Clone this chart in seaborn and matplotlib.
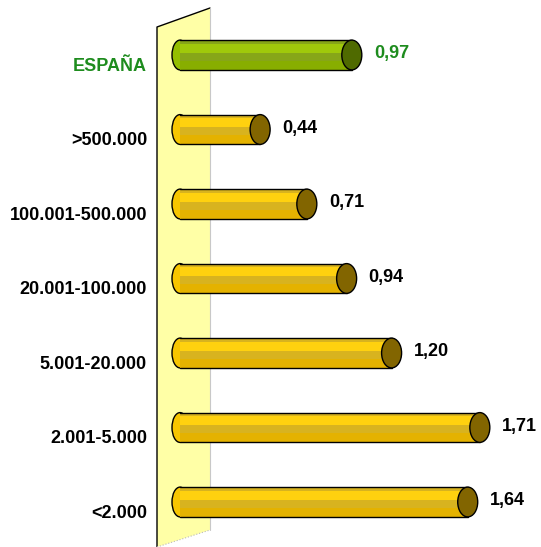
import numpy as np
import matplotlib
matplotlib.use('Agg')
import matplotlib.pyplot as plt
import seaborn as sns
from matplotlib.patches import Ellipse, Polygon, Rectangle

categories = ['ESPAÑA', '>500.000', '100.001-500.000', '20.001-100.000',
              '5.001-20.000', '2.001-5.000', '<2.000']
values = [0.97, 0.44, 0.71, 0.94, 1.20, 1.71, 1.64]
value_labels = ['0,97', '0,44', '0,71', '0,94', '1,20', '1,71', '1,64']

sns.set_theme(style='white')
plt.rcParams['font.family'] = ['Liberation Sans', 'DejaVu Sans']

W, H = 541, 547
fig = plt.figure(figsize=(W / 100, H / 100), dpi=100)
ax = fig.add_axes([0, 0, 1, 1])
ax.set_facecolor('none')

# pixel mapping: x_px = 184 + 173*v ; y_px = 55 + 74.5*i
x0, sx = 184, 173.0
y0, sy = 55, 74.5
ax.set_xlim((0 - x0) / sx, (W - x0) / sx)

# back wall (3D look), drawn in figure pixel coordinates
def fp(px, py):
    return (px / W, 1 - py / H)

tf = fig.transFigure
ax.add_patch(Polygon([fp(157, 27), fp(210, 8), fp(210, 530), fp(157, 547)],
                     closed=True, facecolor='#FFFFA6', edgecolor='none',
                     transform=tf, zorder=0.5, clip_on=False))
ax.plot([157 / W, 157 / W, 210 / W], [1 - 547 / H, 1 - 27 / H, 1 - 8 / H],
        color='black', lw=1.0, transform=tf, zorder=0.6, clip_on=False)
ax.plot([210 / W, 210 / W], [1 - 8 / H, 1 - 530 / H],
        color='#C8C8C8', lw=0.8, transform=tf, zorder=0.6)
ax.plot([157 / W, 210 / W], [1 - 547 / H, 1 - 530 / H],
        color='#BBBBBB', lw=0.8, ls=':', transform=tf, zorder=0.6)

body_cols = ['#94BE00'] + ['#F7C600'] * 6
light_cols = ['#A0C90A'] + ['#FFD10F'] * 6
dark_cols = ['#88AE00'] + ['#E4B200'] * 6
cap_cols = ['#4F6A00'] + ['#826500'] * 6
green = '#1E8C1E'

sns.barplot(x=values, y=categories, hue=categories, palette=body_cols,
            legend=False, width=0.4, ax=ax, zorder=2)
ax.set_ylim((H - y0) / sy, -y0 / sy)

bh = 0.4
start = (180 - x0) / sx
capw = 20 / sx

bars = [p for p in ax.patches if isinstance(p, Rectangle)][:len(values)]
for i, p in enumerate(bars):
    v = values[i]
    yc = p.get_y() + p.get_height() / 2
    p.set_x(start)
    p.set_width(v - start)
    p.set_edgecolor('none')
    # rounded left end
    ax.add_patch(Ellipse((start, yc), 16 / sx, bh, facecolor=body_cols[i],
                         edgecolor='black', lw=1.0, zorder=1.9))
    # soft shading
    ax.add_patch(Rectangle((start, yc - 0.15), v - start, 0.12,
                           facecolor=light_cols[i], edgecolor='none', zorder=2.1))
    ax.add_patch(Rectangle((start, yc + 0.08), v - start, 0.12,
                           facecolor=dark_cols[i], edgecolor='none', zorder=2.1))
    ax.plot([start, v], [yc - bh / 2, yc - bh / 2], color='black', lw=1.0, zorder=2.2)
    ax.plot([start, v], [yc + bh / 2, yc + bh / 2], color='black', lw=1.0, zorder=2.2)
    # end cap
    ax.add_patch(Ellipse((v, yc), capw, bh, facecolor=cap_cols[i],
                         edgecolor='black', lw=1.0, zorder=2.3))
    col = green if i == 0 else 'black'
    ax.text(v + 22 / sx, yc - 0.02, value_labels[i], ha='left', va='center',
            fontsize=13, fontweight='bold', color=col)
    ax.text((147 - x0) / sx, yc + 0.15, categories[i], ha='right', va='center',
            fontsize=13, fontweight='bold', color=col)

ax.set_axis_off()
fig.savefig('out.png', dpi=100)
